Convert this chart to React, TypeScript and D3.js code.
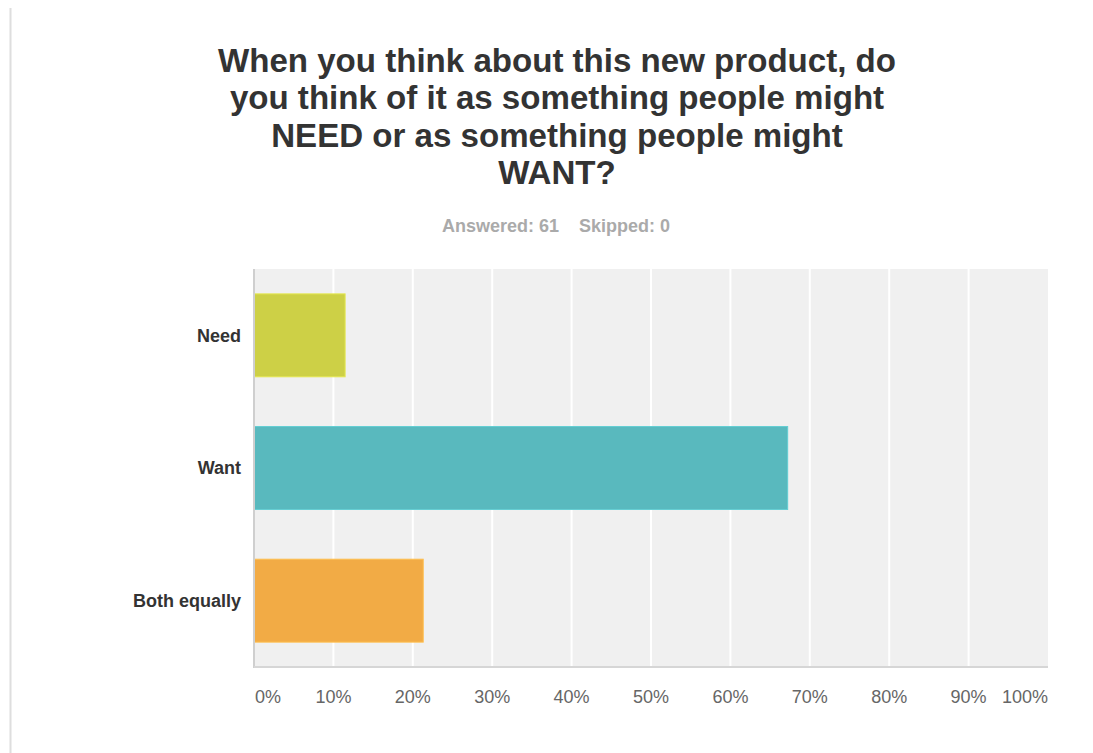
import React from "react";
import * as d3 from "d3";

const categories = ["Need", "Want", "Both equally"];
const counts = [7, 41, 13];
const totalAnswered = 61;
const skipped = 0;
const percents = counts.map((c) => c / totalAnswered);
const barColors = ["#cdd046", "#59b9be", "#f2ab45"];
const xTicks = [0, 0.1, 0.2, 0.3, 0.4, 0.5, 0.6, 0.7, 0.8, 0.9, 1.0];
const titleLines = [
  "When you think about this new product, do",
  "you think of it as something people might",
  "NEED or as something people might",
  "WANT?",
];

export default function App() {
  const W = 1093;
  const H = 753;
  const left = 254;
  const right = 1048;
  const top = 269;
  const bottom = 667;
  const x = d3.scaleLinear().domain([0, 1]).range([left, right]);
  const y = d3
    .scaleBand<string>()
    .domain(categories)
    .range([top, bottom])
    .paddingInner(0.375)
    .paddingOuter(0.1875);
  const font = "'Liberation Sans', Arial, Helvetica, sans-serif";
  return (
    <svg
      width={W}
      height={H}
      style={{ position: "absolute", left: 0, top: 0, background: "#fff" }}
      fontFamily={font}
    >
      <line x1={10.5} x2={10.5} y1={8} y2={H} stroke="#dedede" strokeWidth={2} />
      {titleLines.map((t, i) => (
        <text
          key={i}
          x={557}
          y={71.5 + i * 37.6}
          textAnchor="middle"
          fontSize={33.1}
          fontWeight="bold"
          fill="#333"
        >
          {t}
        </text>
      ))}
      <text x={556} y={232} textAnchor="middle" fontSize={18} fontWeight="bold" fill="#aaa" xmlSpace="preserve">
        {`Answered: ${totalAnswered}    Skipped: ${skipped}`}
      </text>
      <rect x={left} y={top} width={right - left} height={bottom - top} fill="#f0f0f0" />
      {xTicks.slice(1, -1).map((t) => (
        <line key={t} x1={x(t)} x2={x(t)} y1={top} y2={bottom} stroke="#fff" strokeWidth={2} />
      ))}
      {categories.map((c, i) => (
        <rect
          key={c}
          x={x(0)}
          y={y(c)}
          width={x(percents[i]) - x(0)}
          height={y.bandwidth()}
          fill={barColors[i]}
          stroke={d3.color(barColors[i])!.brighter(0.3).toString()}
          strokeWidth={1}
        />
      ))}
      <line x1={left} x2={left} y1={top} y2={bottom + 1} stroke="#cfcfcf" strokeWidth={2} />
      <line x1={left} x2={right} y1={bottom} y2={bottom} stroke="#d6d6d6" strokeWidth={2} />
      {categories.map((c) => (
        <text
          key={c}
          x={241}
          y={(y(c) as number) + y.bandwidth() / 2}
          dy="0.35em"
          textAnchor="end"
          fontSize={18}
          fontWeight="bold"
          fill="#333"
        >
          {c}
        </text>
      ))}
      {xTicks.map((t, i) => (
        <text
          key={t}
          x={i === 0 ? x(t) + 1 : x(t)}
          y={703}
          textAnchor={i === 0 ? "start" : i === xTicks.length - 1 ? "end" : "middle"}
          fontSize={18}
          fill="#666"
        >
          {d3.format(".0%")(t)}
        </text>
      ))}
    </svg>
  );
}
